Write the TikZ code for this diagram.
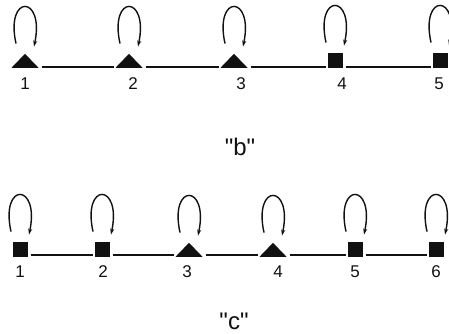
\documentclass[tikz,border=0pt]{standalone}
\usepackage{fontspec}
\setmainfont{Liberation Sans}
\usetikzlibrary{arrows.meta}
\definecolor{GraphInk}{HTML}{111111}

\begin{document}
\begin{tikzpicture}[x=1pt,y=1pt,
    sq/.style={fill=GraphInk,minimum size=15pt,inner sep=0pt,anchor=south},
    tri/.style={minimum width=27pt,minimum height=14pt,inner sep=0pt,anchor=south,
      path picture={\fill[GraphInk] (path picture bounding box.south west)
        -- (path picture bounding box.south east) -- (path picture bounding box.north) -- cycle;}},
    link/.style={GraphInk,line width=1.3pt,shorten <=3pt,shorten >=1.5pt},
    selfloop/.style={GraphInk,line width=1.4pt,-{Stealth[length=6pt,width=4pt]}},
    num/.style={font=\fontsize{17}{19}\selectfont,text=GraphInk},
    caption/.style={font=\fontsize{24}{27}\selectfont,text=GraphInk}]
  \useasboundingbox (0,0) rectangle (449,334);
  % row "b"
  \node[tri] (b1) at (25,266) {};
  \node[tri] (b2) at (129,266) {};
  \node[tri] (b3) at (234,266) {};
  \node[sq] (b4) at (335,266) {};
  \node[sq] (b5) at (440,266) {};
  \node[num] (nb1) at (25,250) {1};
  \node[num] (nb2) at (133,250) {2};
  \node[num] (nb3) at (241,250) {3};
  \node[num] (nb4) at (342,250) {4};
  \node[num] (nb5) at (439,250) {5};
  \node[caption] (capb) at (240,187) {\textquotedbl b\textquotedbl};
  % row "c"
  \node[sq] (c1) at (20,77) {};
  \node[sq] (c2) at (102,77) {};
  \node[tri] (c3) at (189,77) {};
  \node[tri] (c4) at (273,77) {};
  \node[sq] (c5) at (355,77) {};
  \node[sq] (c6) at (436,77) {};
  \node[num] (nc1) at (20,62) {1};
  \node[num] (nc2) at (103,62) {2};
  \node[num] (nc3) at (187,62) {3};
  \node[num] (nc4) at (278,62) {4};
  \node[num] (nc5) at (355,62) {5};
  \node[num] (nc6) at (436,62) {6};
  \node[caption] (capc) at (234,13) {\textquotedbl c\textquotedbl};
  % connectors
  \foreach \a/\b in {b1/b2,b2/b3,b3/b4,b4/b5}
    \draw[link] ([yshift=1pt]\a.south east) -- ([yshift=1pt]\b.south west);
  \foreach \a/\b in {c1/c2,c2/c3,c3/c4,c4/c5,c5/c6}
    \draw[link] ([yshift=2pt]\a.south east) -- ([yshift=2pt]\b.south west);
  % self loops
  \foreach \n in {b1,b2,b3,b4,b5,c1,c2,c3,c4,c5,c6}
    \draw[selfloop] ([shift={(-9,10)}]\n.north) .. controls +(-11,50) and +(11,52) .. ([shift={(9,7)}]\n.north);
\end{tikzpicture}
\end{document}
